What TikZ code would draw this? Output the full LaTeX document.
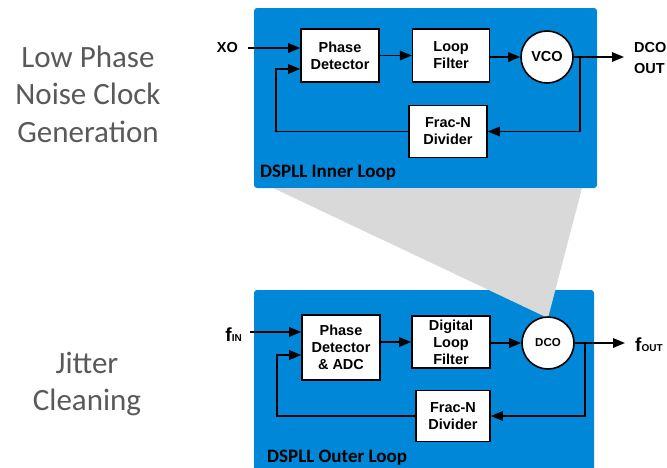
\documentclass[tikz,border=0pt]{standalone}
\usepackage{fontspec}
\setmainfont{Liberation Sans}
\newfontfamily\carlito{Carlito}
\usetikzlibrary{arrows.meta,positioning,calc}
\definecolor{loopblue}{HTML}{0087D7}
\definecolor{fangray}{HTML}{D9D9D9}
\definecolor{captiongray}{HTML}{595959}
\tikzset{
  sigarr/.style={-{Triangle[length=12pt,width=9.5pt]}, line width=1.6pt},
  blockbox/.style={draw, line width=1.6pt, fill=white, align=center, inner sep=1pt,
    font=\fontsize{14.5}{17}\selectfont\bfseries},
  oscnode/.style={draw, circle, line width=1.6pt, fill=white, minimum size=52pt, inner sep=0pt,
    font=\fontsize{14.5}{16}\selectfont\bfseries},
}

\begin{document}
\begin{tikzpicture}[
  x=1pt, y=-1pt,
  looplbl/.style={font=\carlito\fontsize{19}{22}\selectfont\bfseries, anchor=west, inner sep=0pt},
  caption/.style={font=\carlito\fontsize{31}{37.5}\selectfont, text=captiongray, align=center},
  iolbl/.style={font=\fontsize{14.5}{21}\selectfont\bfseries, inner sep=0pt},
]
  \useasboundingbox (0,0) rectangle (667,467);

  % loop panels and the zoom fan
  \fill[loopblue, rounded corners=3pt] (254,8) rectangle (597,188);
  \begin{scope}
    \clip (0,0) rectangle (667,467);
    \fill[loopblue, rounded corners=3pt] (254,290) rectangle (594,480);
  \end{scope}
  \coordinate (apex) at (548,318);
  \fill[fangray] (273,188) -- (582,188) -- (apex) -- cycle;

  \node[caption] (lpn) at (88,94) {Low Phase\\Noise Clock\\Generation};
  \node[caption] (jit) at (87,384) {Jitter\\Cleaning};

  % inner loop
  \node[iolbl, anchor=east] (xo) at (238,48) {XO};
  \node[blockbox, minimum width=78pt, minimum height=53pt] (pd1) at (340,55.5) {Phase\\Detector};
  \node[blockbox, minimum width=77pt, minimum height=53pt, right=32pt of pd1] (lf1) {Loop\\Filter};
  \node[oscnode] (vco) at (547,57) {VCO};
  \node[blockbox, minimum width=78pt, minimum height=52pt] (div1) at (448,131.5) {Frac-N\\Divider};
  \node[iolbl, anchor=west, align=left] (out1) at (634,58) {DCO\\OUT};
  \node[looplbl] (inner) at (260,173) {DSPLL Inner Loop};

  \draw[sigarr] ([xshift=10pt]xo.east) -- (xo.east -| pd1.west);
  \draw[sigarr] (pd1) -- (lf1);
  \draw[sigarr] (lf1.east |- vco) -- (vco);
  \draw[sigarr] (vco) -- ([xshift=-10pt]out1.west |- vco);
  \coordinate (tap1) at ($(vco.east)+(6,0)$);
  \draw[sigarr] (tap1) |- (div1);
  \coordinate (ret1) at (276,69);
  \draw[sigarr] (div1) -| (ret1) -- (ret1 -| pd1.west);

  % outer loop
  \node[iolbl, anchor=east] (fin) at (242,335) {{\fontsize{19}{19}\selectfont f}{\fontsize{10}{10}\selectfont IN}};
  \node[blockbox, minimum width=78pt, minimum height=65pt] (pd2) at (341,347.5) {Phase\\Detector\\\& ADC};
  \node[blockbox, minimum width=78pt, minimum height=52pt] (dlf2) at (451,342) {Digital\\Loop\\Filter};
  \node[oscnode] (dco) at (548,343) {\fontsize{11.5}{11.5}\selectfont DCO};
  \node[blockbox, minimum width=74pt, minimum height=51pt] (div2) at (453,416) {Frac-N\\Divider};
  \node[iolbl, anchor=west] (fout) at (635,345) {{\fontsize{19}{19}\selectfont f}{\fontsize{10}{10}\selectfont OUT}};
  \node[looplbl] (outer) at (267,458) {DSPLL Outer Loop};

  \coordinate (finin) at (250,332);
  \draw[sigarr] (finin) -- (finin -| pd2.west);
  \draw[sigarr] (pd2.east |- dlf2) -- (dlf2);
  \draw[sigarr] (dlf2.east |- dco) -- (dco);
  \draw[sigarr] (dco) -- ([xshift=-10pt]fout.west |- dco);
  \coordinate (tap2) at ($(dco.east)+(10,0)$);
  \draw[sigarr] (tap2) |- (div2);
  \coordinate (ret2) at (277,355);
  \draw[sigarr] (div2) -| (ret2) -- (ret2 -| pd2.west);
\end{tikzpicture}
\end{document}
